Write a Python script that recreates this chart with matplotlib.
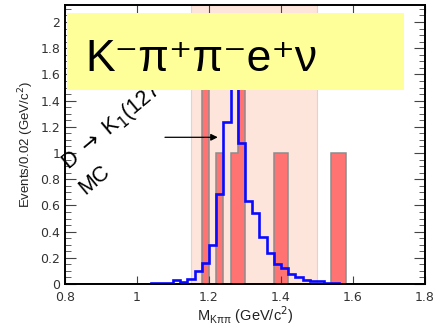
import numpy as np
import matplotlib
matplotlib.use('Agg')
import matplotlib.pyplot as plt
from matplotlib.ticker import MultipleLocator, FuncFormatter
from matplotlib.patches import Rectangle

# bins of 0.02 GeV/c^2 from 0.8 to 1.8
bin_width = 0.02
edges = np.round(np.arange(0.80, 1.80 + bin_width / 2, bin_width), 2)

# MC shape (blue line), one value per bin
mc_values = [0, 0, 0, 0, 0, 0, 0, 0, 0, 0, 0, 0,
             0.008, 0.008, 0.008, 0.03, 0.012, 0.037, 0.10, 0.16, 0.30, 0.69,
             1.24, 1.75, 1.08, 0.63, 0.54, 0.36, 0.24, 0.15, 0.12, 0.08,
             0.05, 0.03, 0.022, 0.02, 0.006, 0.004,
             0, 0, 0, 0, 0, 0, 0, 0, 0, 0, 0, 0]

# data events (red bars): bin low edge and count
data_bin_lo = [1.18, 1.22, 1.26, 1.28, 1.38, 1.40, 1.54, 1.56]
data_counts = [2, 1, 1, 2, 1, 1, 1, 1]

# signal region shading
band_lo, band_hi = 1.15, 1.50

x_ticks = [0.8, 1.0, 1.2, 1.4, 1.6, 1.8]

counts_full = np.zeros(len(edges) - 1)
for lo, c in zip(data_bin_lo, data_counts):
    counts_full[int(round((lo - 0.80) / bin_width))] = c

fig = plt.figure(figsize=(4.38, 3.25), dpi=100)
ax = fig.add_axes([65 / 438, 41 / 325, 360 / 438, 279 / 325])

ax.axvspan(band_lo, band_hi, facecolor='#fde5dc', edgecolor='#e6d2cc', lw=0.8, zorder=0)
ax.stairs(counts_full, edges, fill=True, facecolor='#ff7373', edgecolor='#8c8c8c',
          lw=1.1, zorder=1)
ax.stairs(mc_values, edges, color='#0a0aff', lw=1.9, zorder=2)

ax.set_xlim(0.8, 1.8)
ax.set_ylim(0, 2.13)

ax.set_xticks(x_ticks)
ax.xaxis.set_major_formatter(FuncFormatter(lambda v, p: '%g' % v))
ax.yaxis.set_major_locator(MultipleLocator(0.2))
ax.yaxis.set_minor_locator(MultipleLocator(0.05))
ax.yaxis.set_major_formatter(FuncFormatter(lambda v, p: '%g' % round(v, 2)))
ax.tick_params(axis='both', which='both', direction='in', top=True, right=True,
               labelsize=9, labelcolor='#333333', colors='#444444')
ax.tick_params(axis='y', which='major', length=8, width=0.8)
ax.tick_params(axis='y', which='minor', length=4, width=0.6)
ax.tick_params(axis='x', which='major', length=6, width=0.8, pad=5)
for s in ax.spines.values():
    s.set_linewidth(1.4)

ax.set_ylabel('Events/0.02 (GeV/c$^{2}$)', fontsize=9.5, family='Liberation Sans',
              color='#222222', labelpad=3)
ax.set_xlabel(r'M$_{\mathregular{K\pi\pi}}$ (GeV/c$^{2}$)', fontsize=10.5,
              family='Liberation Sans', color='#222222', labelpad=0)

# rotated MC label and arrow
ax.text(0.810, 0.86, r'D $\rightarrow$ K$_{1}$(1270)e$^{+}\nu$', rotation=40,
        rotation_mode='anchor', ha='left', va='baseline', fontsize=15.5,
        family='Liberation Sans', zorder=3)
ax.text(0.856, 0.68, 'MC', rotation=40, rotation_mode='anchor', ha='left',
        va='baseline', fontsize=15.5, family='Liberation Sans', zorder=3)
ax.annotate('', xy=(1.232, 1.12), xytext=(1.07, 1.12),
            arrowprops=dict(arrowstyle='-|>', color='black', lw=0.9,
                            mutation_scale=10), zorder=3)

# yellow title box
ax.add_patch(Rectangle((0.006, 0.695), 0.936, 0.276, transform=ax.transAxes,
                       facecolor='#ffff99', edgecolor='none', zorder=5))
ax.text(0.056, 0.763, 'K\u207bπ\u207aπ\u207be\u207aν', transform=ax.transAxes,
        fontsize=32, family=['Liberation Sans', 'DejaVu Sans'], ha='left',
        va='baseline', zorder=6)

fig.savefig('out.png', dpi=100)
